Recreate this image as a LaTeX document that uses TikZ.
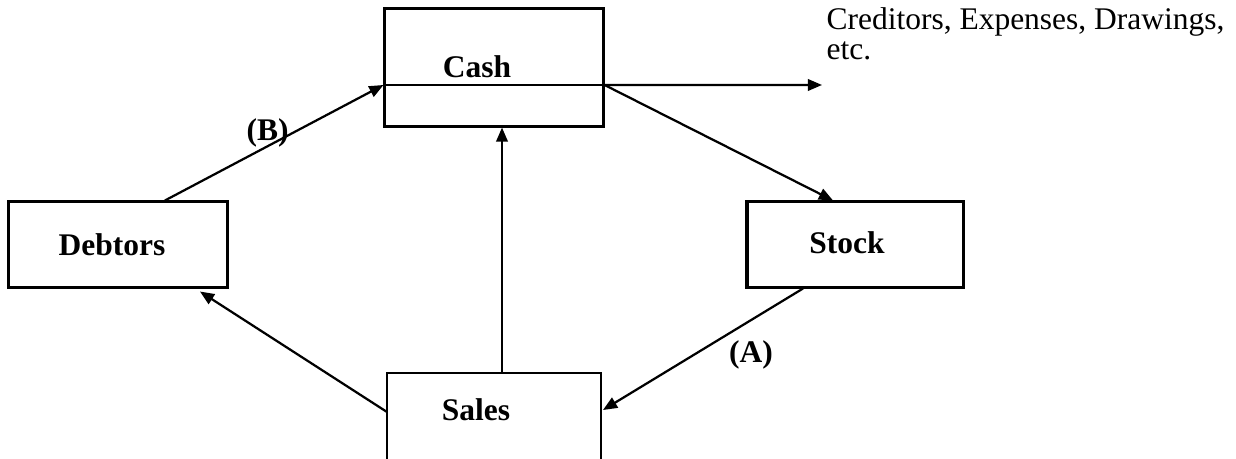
\documentclass[tikz,border=0pt]{standalone}
\usepackage{fontspec}
\setmainfont{Liberation Serif}
\usetikzlibrary{arrows.meta,calc}

\begin{document}
\begin{tikzpicture}[x=0.381pt,y=-0.381pt,
  >={Triangle[length=5.4pt,width=4.4pt]},
  box/.style={draw,line width=1.15pt,inner sep=0pt},
  lbl/.style={font=\fontsize{12}{14}\selectfont\bfseries},
  link/.style={->,line width=0.85pt}]
\useasboundingbox (0,0) rectangle (1236,459);
\node[box,minimum width=83.1pt,minimum height=44.6pt] (cash) at (494,67.5) {};
\node[box,minimum width=83.8pt,minimum height=32.4pt] (debtors) at (118,244.5) {};
\node[box,minimum width=82.3pt,minimum height=32.4pt] (stock) at (855,244.5) {};
\node[lbl] (cashtxt) at (477,67) {Cash};
\node[lbl] (debtorstxt) at (112,245) {Debtors};
\node[lbl] (stocktxt) at (847,243) {Stock};
\node[lbl] (salestxt) at (476,410) {Sales};
\node[anchor=north west,inner sep=0pt,align=left,font=\fontsize{12}{11.4}\selectfont] (others) at (826,7) {Creditors, Expenses, Drawings,\\etc.};
\coordinate (salesnw) at (387,373);
\coordinate (salesne) at (601,373);
\coordinate (cmw) at ($(cash.west)+(0,17.5)$);
\coordinate (cme) at ($(cash.east)+(0,17.5)$);
\coordinate (outtip) at (822,85);
\coordinate (salestop) at (502,373);
\draw[line width=0.6pt] (salesnw |- 0,459) -- (salesnw) -- (salesne) -- (salesne |- 0,459);
\draw[line width=1.1pt] (cmw) -- (cme);
\draw[link] (cme) -- (outtip);
\draw[link] ($(debtors.north)+(47,0)$) -- node[lbl,pos=0.47,yshift=5pt] (b) {(B)} (cmw);
\draw[link] (cme) -- ($(stock.north)+(-22,0)$);
\draw[link] (salestop) -- (salestop |- cash.south);
\draw[link] ($(salesnw)+(0,39)$) -- ($(debtors.south)+(82,3)$);
\draw[link] ($(stock.south)+(-52,0)$) -- ($(salesne)+(2,37)$);
\node[lbl] (a) at (751,355) {(A)};
\end{tikzpicture}
\end{document}
